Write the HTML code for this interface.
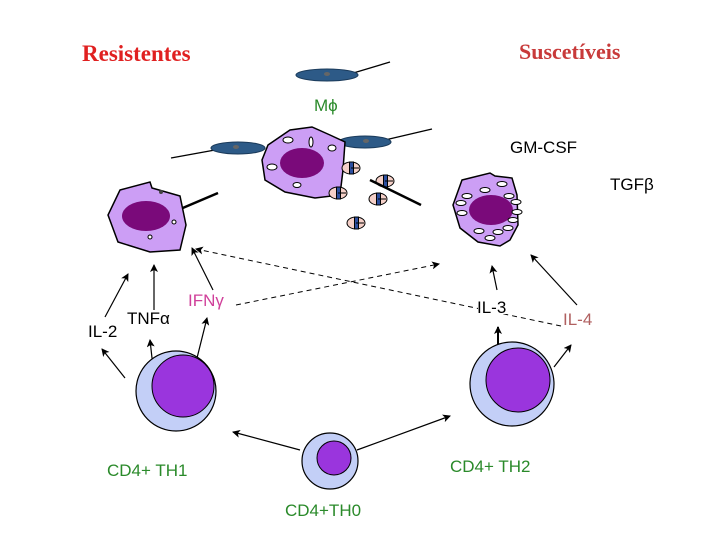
<!DOCTYPE html>
<html><head><meta charset="utf-8"><style>
html,body{margin:0;padding:0;background:#fff;}
svg{display:block;}
.s{font-family:"Liberation Sans",sans-serif;font-size:17px;}
</style></head><body>
<svg width="720" height="540" viewBox="0 0 720 540" xmlns="http://www.w3.org/2000/svg">
<defs>
<marker id="a" markerWidth="8" markerHeight="8" refX="7" refY="4" orient="auto" markerUnits="userSpaceOnUse"><path d="M0,0 L8,4 L0,8 L2,4 Z" fill="#000"/></marker>
</defs>
<text x="82" y="61" font-family="Liberation Serif,serif" font-weight="bold" font-size="23" fill="#e02020">Resistentes</text>
<text x="519" y="59" font-family="Liberation Serif,serif" font-weight="bold" font-size="22" fill="#c83a3a">Suscetíveis</text>
<text x="314" y="111" class="s" fill="#2a8a2a" font-size="18">Mϕ</text>
<text x="510" y="153" class="s" fill="#000">GM-CSF</text>
<text x="610" y="190" class="s" fill="#000">TGFβ</text>

<!-- parasites -->
<line x1="350" y1="74" x2="390" y2="62" stroke="#000" stroke-width="1.3"/>
<ellipse cx="327" cy="75" rx="31" ry="6" fill="#2d5a87" stroke="#1a3a5a"/>
<ellipse cx="327" cy="74" rx="3" ry="2" fill="#666"/>
<line x1="171" y1="158" x2="215" y2="150" stroke="#000" stroke-width="1.3"/>
<ellipse cx="238" cy="148" rx="27" ry="6" fill="#2d5a87" stroke="#1a3a5a"/>
<ellipse cx="236" cy="147" rx="3" ry="2" fill="#666"/>
<line x1="385" y1="140" x2="432" y2="129" stroke="#000" stroke-width="1.3"/>
<ellipse cx="365" cy="142" rx="26" ry="6" fill="#2d5a87" stroke="#1a3a5a"/>
<ellipse cx="366" cy="141" rx="3" ry="2" fill="#666"/>

<!-- middle macrophage -->
<path d="M268,145 L290,130 L312,127 L330,135 L345,142 L343,170 L340,195 L315,198 L285,192 L265,180 L262,160 Z" fill="#cc9ef5" stroke="#000" stroke-width="1.5"/>
<ellipse cx="302" cy="163" rx="22" ry="15" fill="#7a0a7a"/>
<ellipse cx="288" cy="140" rx="5" ry="3" fill="#fff" stroke="#000"/>
<ellipse cx="311" cy="142" rx="2" ry="5" fill="#fff" stroke="#000"/>
<ellipse cx="332" cy="148" rx="4" ry="3" fill="#fff" stroke="#000"/>
<ellipse cx="272" cy="167" rx="5" ry="3" fill="#fff" stroke="#000"/>
<ellipse cx="297" cy="185" rx="4" ry="2.5" fill="#fff" stroke="#000"/>
<!-- amastigotes -->
<g stroke="#000" stroke-width="1">
<g transform="translate(351,168)"><ellipse rx="9" ry="6" fill="#f5d0c8"/><rect x="-1.5" y="-6" width="4" height="12" fill="#2d4fa0"/><line x1="0" y1="0" x2="8" y2="0"/></g>
<g transform="translate(338,193)"><ellipse rx="9" ry="6" fill="#f5d0c8"/><rect x="-1.5" y="-6" width="4" height="12" fill="#2d4fa0"/><line x1="0" y1="0" x2="8" y2="0"/></g>
<g transform="translate(385,181)"><ellipse rx="9" ry="6" fill="#f5d0c8"/><rect x="-1.5" y="-6" width="4" height="12" fill="#2d4fa0"/><line x1="0" y1="0" x2="8" y2="0"/></g>
<g transform="translate(378,199)"><ellipse rx="9" ry="6" fill="#f5d0c8"/><rect x="-1.5" y="-6" width="4" height="12" fill="#2d4fa0"/><line x1="0" y1="0" x2="8" y2="0"/></g>
<g transform="translate(356,223)"><ellipse rx="9" ry="6" fill="#f5d0c8"/><rect x="-1.5" y="-6" width="4" height="12" fill="#2d4fa0"/><line x1="0" y1="0" x2="8" y2="0"/></g>
</g>
<line x1="370" y1="180" x2="421" y2="205" stroke="#000" stroke-width="2.5"/>
<line x1="178" y1="210" x2="218" y2="193" stroke="#000" stroke-width="2.5"/>

<!-- left macrophage -->
<path d="M120,190 L150,182 L152,188 L180,196 L186,225 L180,250 L150,252 L118,242 L108,215 Z" fill="#cc9ef5" stroke="#000" stroke-width="1.5"/>
<ellipse cx="146" cy="216" rx="24" ry="15" fill="#7a0a7a"/>
<circle cx="161" cy="192" r="2" fill="#444"/>
<circle cx="174" cy="222" r="2" fill="#fff" stroke="#000"/>
<circle cx="150" cy="237" r="2" fill="#fff" stroke="#000"/>

<!-- right macrophage -->
<path d="M462,180 L490,173 L495,176 L512,178 L517,195 L518,225 L510,240 L500,246 L478,242 L460,228 L453,205 Z" fill="#cc9ef5" stroke="#000" stroke-width="1.5"/>
<ellipse cx="491" cy="210" rx="22" ry="15" fill="#7a0a7a"/>
<g fill="#fff" stroke="#000">
<ellipse cx="502" cy="184" rx="5" ry="2.5"/><ellipse cx="485" cy="190" rx="5" ry="2.5"/><ellipse cx="467" cy="196" rx="5" ry="2.5"/>
<ellipse cx="509" cy="196" rx="5" ry="2.5"/><ellipse cx="461" cy="203" rx="5" ry="2.5"/><ellipse cx="516" cy="202" rx="5" ry="2.5"/>
<ellipse cx="462" cy="213" rx="5" ry="2.5"/><ellipse cx="517" cy="212" rx="5" ry="2.5"/><ellipse cx="513" cy="220" rx="5" ry="2.5"/>
<ellipse cx="508" cy="228" rx="5" ry="2.5"/><ellipse cx="479" cy="231" rx="5" ry="2.5"/><ellipse cx="498" cy="232" rx="5" ry="2.5"/>
<ellipse cx="490" cy="238" rx="5" ry="2.5"/>
</g>

<!-- dashed -->
<line x1="561" y1="326" x2="196" y2="249" stroke="#000" stroke-width="1" stroke-dasharray="5,4" marker-end="url(#a)"/>
<line x1="236" y1="305" x2="439" y2="264" stroke="#000" stroke-width="1" stroke-dasharray="5,4" marker-end="url(#a)"/>

<!-- solid arrows -->
<g stroke="#000" stroke-width="1.2" marker-end="url(#a)">
<line x1="105" y1="317" x2="128" y2="274"/>
<line x1="125" y1="378" x2="102" y2="349"/>
<line x1="154" y1="310" x2="154" y2="265"/>
<line x1="154" y1="376" x2="150" y2="340"/>
<line x1="213" y1="290" x2="192" y2="248"/>
<line x1="196" y1="362" x2="207" y2="318"/>
<line x1="497" y1="290" x2="492" y2="266"/>
<line x1="498" y1="357" x2="498" y2="327" stroke-width="2"/>
<line x1="577" y1="305" x2="531" y2="255"/>
<line x1="554" y1="367" x2="571" y2="345"/>
<line x1="300" y1="450" x2="233" y2="432"/>
<line x1="357" y1="450" x2="450" y2="416"/>
</g>

<rect x="478" y="298" width="30" height="16" fill="#fff"/>
<text x="88" y="337" class="s">IL-2</text>
<text x="127" y="324" class="s">TNFα</text>
<text x="188" y="306" class="s" fill="#d0409a">IFNγ</text>
<text x="477" y="313" class="s">IL-3</text>
<text x="563" y="325" class="s" fill="#b06060">IL-4</text>

<!-- T cells -->
<circle cx="176" cy="391" r="40" fill="#c3cff7" stroke="#000" stroke-width="1.2"/>
<circle cx="183" cy="386" r="31" fill="#9a35dd" stroke="#000" stroke-width="1"/>
<circle cx="512" cy="384" r="42" fill="#c3cff7" stroke="#000" stroke-width="1.2"/>
<circle cx="518" cy="380" r="32" fill="#9a35dd" stroke="#000" stroke-width="1"/>
<circle cx="330" cy="461" r="28" fill="#c3cff7" stroke="#000" stroke-width="1.2"/>
<circle cx="334" cy="458" r="17" fill="#9a35dd" stroke="#000" stroke-width="1"/>

<text x="107" y="476" class="s" fill="#2a8a2a">CD4+ TH1</text>
<text x="450" y="472" class="s" fill="#2a8a2a">CD4+ TH2</text>
<text x="285" y="516" class="s" fill="#2a8a2a" font-size="18.5">CD4+TH0</text>
</svg>
</body></html>
